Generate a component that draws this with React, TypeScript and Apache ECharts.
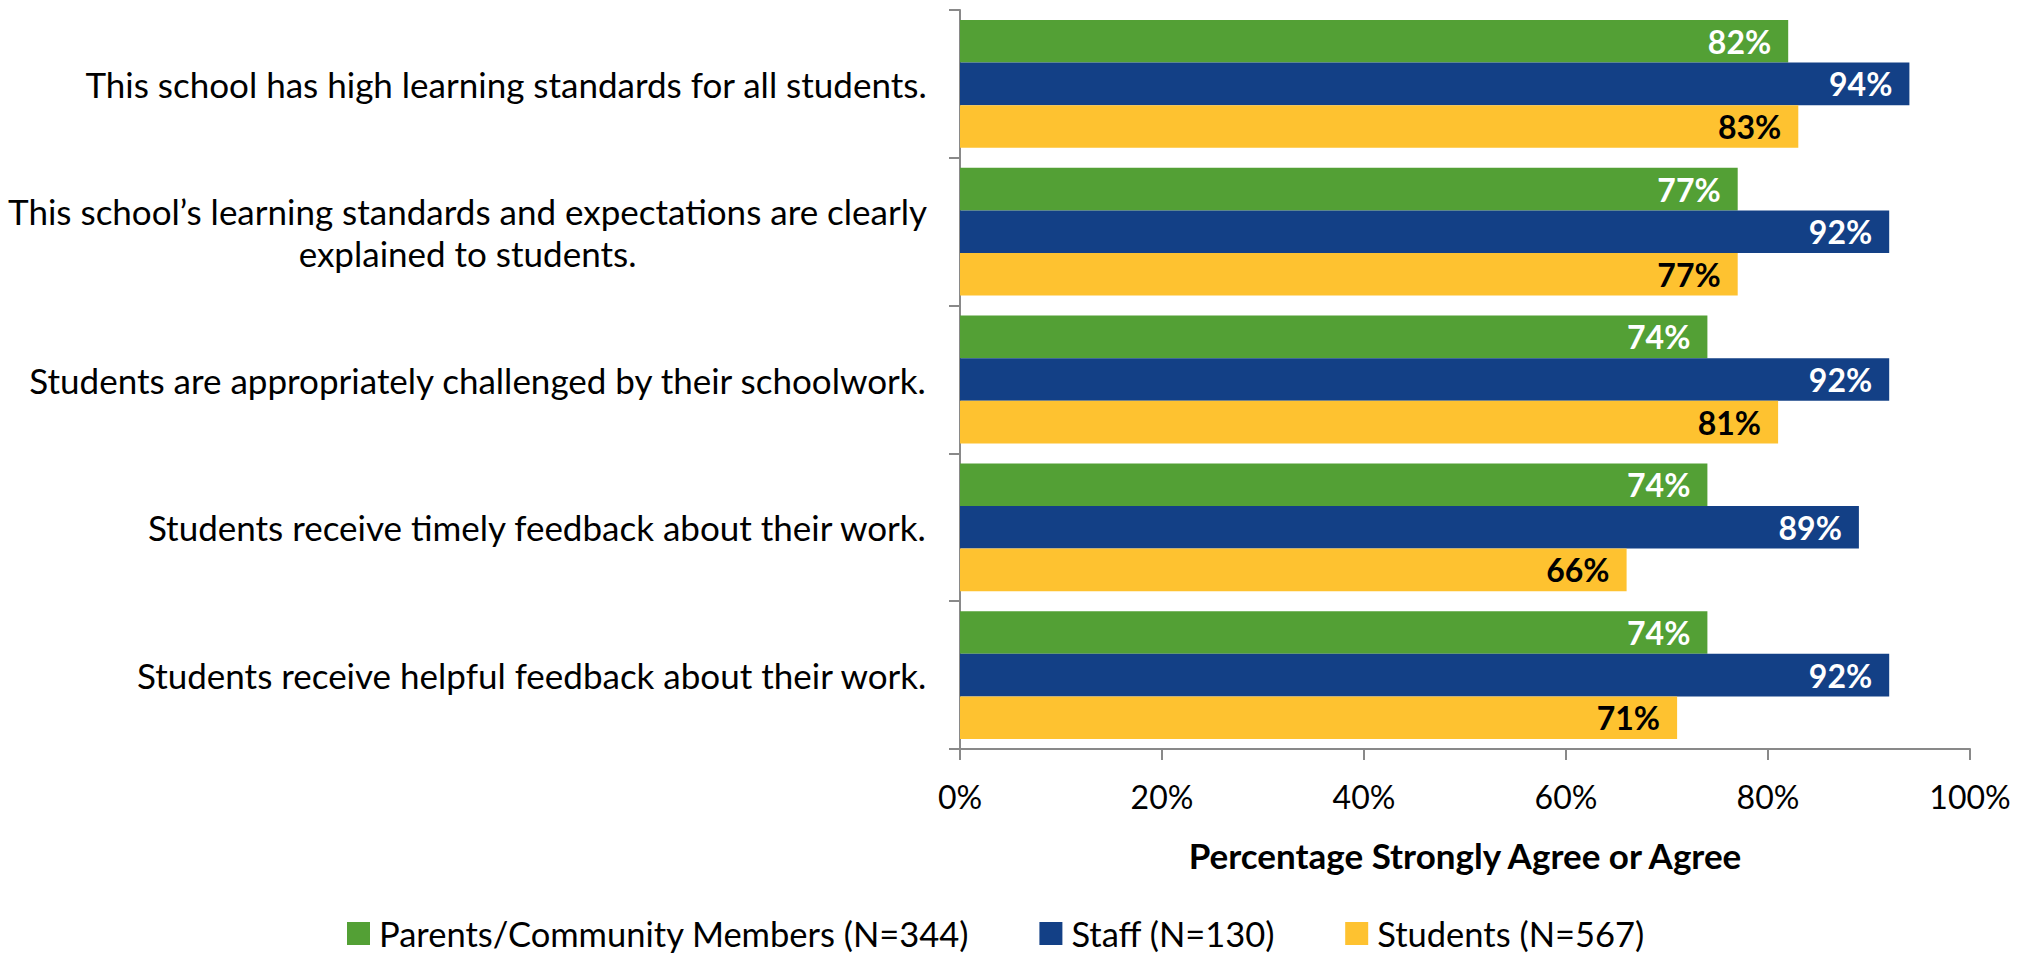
import React, { useEffect, useRef } from "react";
import * as echarts from "echarts";

const categories = [
  "This school has high learning standards for all students.",
  "This school\u2019s learning standards and expectations are clearly\nexplained to students.",
  "Students are appropriately challenged by their schoolwork.",
  "Students receive timely feedback about their work.",
  "Students receive helpful feedback about their work.",
];
const seriesNames = ["Parents/Community Members (N=344)", "Staff (N=130)", "Students (N=567)"];
const parents = [82, 77, 74, 74, 74];
const staff = [94, 92, 92, 89, 92];
const students = [83, 77, 81, 66, 71];
const colors = ["#53a035", "#134086", "#fec230"];
const labelColors = ["#ffffff", "#ffffff", "#000000"];

const FONT = "Lato";

export default function App() {
  const ref = useRef<HTMLDivElement>(null);
  useEffect(() => {
    const chart = echarts.init(ref.current!, null, { renderer: "svg" });
    const data = [parents, staff, students];
    chart.setOption({
      animation: false,
      textStyle: { fontFamily: FONT },
      grid: { left: 960, right: 60, top: 10, bottom: 204, containLabel: false },
      legend: {
        bottom: 2,
        left: 347,
        padding: 0,
        itemWidth: 23,
        itemHeight: 23,
        itemGap: 70,
        icon: "rect",
        textStyle: { fontSize: 34.5, color: "#000", fontFamily: FONT, padding: [0, 0, 0, 4] },
        data: seriesNames,
      },
      xAxis: {
        type: "value",
        min: 0,
        max: 100,
        interval: 20,
        axisLabel: { formatter: "{value}%", fontSize: 32, color: "#000", margin: 31, fontFamily: FONT },
        axisLine: { show: true, lineStyle: { color: "#898989", width: 2 } },
        axisTick: { show: true, length: 11, lineStyle: { color: "#898989", width: 2 } },
        splitLine: { show: false },
        name: "Percentage Strongly Agree or Agree",
        nameLocation: "middle",
        nameGap: 88,
        nameTextStyle: { fontSize: 35, fontWeight: "bold", color: "#000", fontFamily: FONT },
      },
      yAxis: {
        type: "category",
        inverse: true,
        data: categories,
        axisLine: { show: true, lineStyle: { color: "#898989", width: 2 } },
        axisTick: { show: true, length: 11, lineStyle: { color: "#898989", width: 2 } },
        axisLabel: {
          fontSize: 35,
          color: "#000",
          margin: 33,
          align: "right",
          lineHeight: 42,
          fontFamily: FONT,
          formatter: (v: string) =>
            v
              .split("\n")
              .map((l) => `{c|${l}}`)
              .join("\n"),
          rich: {
            c: { align: "center", fontSize: 35, lineHeight: 42, color: "#000", fontFamily: FONT },
          },
        },
      },
      series: seriesNames.map((name, i) => ({
        name,
        type: "bar",
        data: data[i],
        barGap: "0%",
        barCategoryGap: "13.5%",
        itemStyle: { color: colors[i] },
        label: {
          show: true,
          position: "insideRight",
          formatter: "{c}%",
          color: labelColors[i],
          fontWeight: "bold",
          fontSize: 32,
          distance: 17,
          fontFamily: FONT,
        },
      })),
    });
    return () => chart.dispose();
  }, []);
  return <div ref={ref} style={{ position: "absolute", left: 0, top: 0, width: 2030, height: 953 }} />;
}
